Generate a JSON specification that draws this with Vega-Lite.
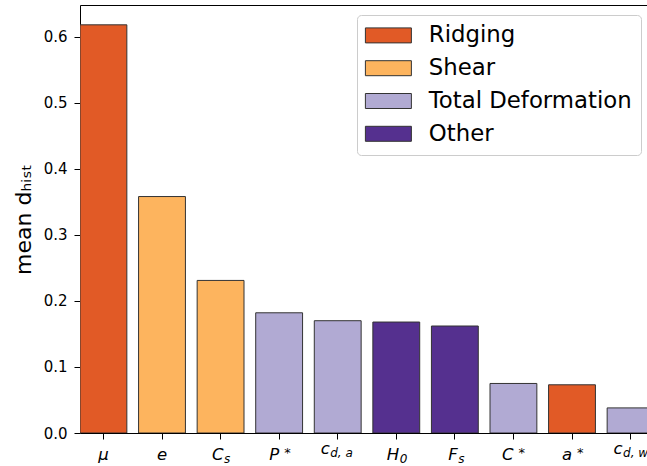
{
  "$schema": "https://vega.github.io/schema/vega-lite/v6.json",
  "width": 567,
  "height": 428,
  "autosize": {"type": "none"},
  "padding": {"left": 80, "top": 5, "right": 0, "bottom": 33},
  "background": "white",
  "config": {"view": {"stroke": null}, "font": "DejaVu Sans"},
  "data": {
    "values": [
      {"param": "μ", "base": "μ", "sub": "", "sup": "", "value": 0.618, "group": "Ridging"},
      {"param": "e", "base": "e", "sub": "", "sup": "", "value": 0.358, "group": "Shear"},
      {"param": "C_s", "base": "C", "sub": "s", "sup": "", "value": 0.231, "group": "Shear"},
      {"param": "P*", "base": "P", "sub": "", "sup": "*", "value": 0.182, "group": "Total Deformation"},
      {"param": "c_d,a", "base": "c", "sub": "d, a", "sup": "", "value": 0.170, "group": "Total Deformation"},
      {"param": "H_0", "base": "H", "sub": "0", "sup": "", "value": 0.168, "group": "Other"},
      {"param": "F_s", "base": "F", "sub": "s", "sup": "", "value": 0.162, "group": "Other"},
      {"param": "C*", "base": "C", "sub": "", "sup": "*", "value": 0.075, "group": "Total Deformation"},
      {"param": "a*", "base": "a", "sub": "", "sup": "*", "value": 0.073, "group": "Ridging"},
      {"param": "c_d,w", "base": "c", "sub": "d, w", "sup": "", "value": 0.038, "group": "Total Deformation"}
    ]
  },
  "layer": [
    {
      "mark": {"type": "bar", "clip": true, "stroke": "#333333", "strokeWidth": 1},
      "encoding": {
        "x": {
          "field": "param", "type": "nominal", "sort": null,
          "scale": {
            "domain": ["μ", "e", "C_s", "P*", "c_d,a", "H_0", "F_s", "C*", "a*", "c_d,w"],
            "range": [0, 574], "paddingInner": 0.2, "paddingOuter": 0
          },
          "axis": {"orient": "bottom", "labels": false, "title": null, "tickSize": 6, "tickColor": "black", "tickWidth": 1, "domainColor": "black", "domainWidth": 1}
        },
        "y": {
          "field": "value", "type": "quantitative",
          "scale": {"domain": [0, 0.648], "nice": false},
          "axis": {
            "title": "mean dₕᵢₛₜ",
            "titleFont": "DejaVu Sans", "titleFontSize": 22, "titleFontWeight": "normal", "titleColor": "black",
            "titlePadding": 8,
            "values": [0, 0.1, 0.2, 0.3, 0.4, 0.5, 0.6], "format": ".1f",
            "labelFont": "DejaVu Sans", "labelFontSize": 15, "labelColor": "black", "labelPadding": 7,
            "tickSize": 6, "tickColor": "black", "domainColor": "black", "grid": false
          }
        },
        "color": {
          "field": "group", "type": "nominal",
          "scale": {
            "domain": ["Ridging", "Shear", "Total Deformation", "Other"],
            "range": ["#e15a26", "#fdb45e", "#b1aad3", "#55308f"]
          },
          "legend": {
            "orient": "none", "legendX": 277, "legendY": 10,
            "title": null,
            "labelFont": "DejaVu Sans", "labelFontSize": 22.8, "labelColor": "black", "labelLimit": 400,
            "symbolType": "M-1.6,-1H4.53V1H-1.6Z", "symbolSize": 225,
            "symbolStrokeColor": "#333333", "symbolStrokeWidth": 1, "symbolOpacity": 1,
            "labelOffset": 40, "rowPadding": 8.8, "padding": 9,
            "strokeColor": "#cccccc", "fillColor": "white", "cornerRadius": 4
          }
        }
      }
    },
    {
      "mark": {"type": "bar", "opacity": 0},
      "encoding": {
        "x": {"field": "param", "type": "nominal", "sort": null,
              "axis": {"orient": "top", "labels": false, "ticks": false, "title": null, "domainColor": "black", "domainWidth": 1}},
        "y": {"field": "value", "type": "quantitative"}
      }
    },
    {
      "transform": [{"filter": "datum.sub === '' && datum.sup === ''"}],
      "mark": {"type": "text", "align": "center", "baseline": "alphabetic", "dy": 26.5, "fontSize": 16.5, "fontStyle": "italic", "font": "DejaVu Sans", "color": "black"},
      "encoding": {
        "x": {"field": "param", "type": "nominal", "sort": null, "axis": null},
        "y": {"datum": 0, "type": "quantitative"},
        "text": {"field": "base"}
      }
    },
    {
      "transform": [{"filter": "datum.sup !== ''"}],
      "mark": {"type": "text", "align": "right", "baseline": "alphabetic", "dx": 0, "dy": 26.5, "fontSize": 16.5, "fontStyle": "italic", "font": "DejaVu Sans", "color": "black"},
      "encoding": {
        "x": {"field": "param", "type": "nominal", "sort": null, "axis": null},
        "y": {"datum": 0, "type": "quantitative"},
        "text": {"field": "base"}
      }
    },
    {
      "transform": [{"filter": "datum.sup !== ''"}],
      "mark": {"type": "text", "align": "left", "baseline": "alphabetic", "dx": 5, "dy": 24, "fontSize": 13, "font": "DejaVu Sans", "color": "black"},
      "encoding": {
        "x": {"field": "param", "type": "nominal", "sort": null, "axis": null},
        "y": {"datum": 0, "type": "quantitative"},
        "text": {"field": "sup"}
      }
    },
    {
      "transform": [{"filter": "length(datum.sub) === 1"}],
      "mark": {"type": "text", "align": "right", "baseline": "alphabetic", "dx": 3, "dy": 26.5, "fontSize": 16.5, "fontStyle": "italic", "font": "DejaVu Sans", "color": "black"},
      "encoding": {
        "x": {"field": "param", "type": "nominal", "sort": null, "axis": null},
        "y": {"datum": 0, "type": "quantitative"},
        "text": {"field": "base"}
      }
    },
    {
      "transform": [{"filter": "length(datum.sub) === 1"}],
      "mark": {"type": "text", "align": "left", "baseline": "alphabetic", "dx": 3.5, "dy": 29.5, "fontSize": 12, "fontStyle": "italic", "font": "DejaVu Sans", "color": "black"},
      "encoding": {
        "x": {"field": "param", "type": "nominal", "sort": null, "axis": null},
        "y": {"datum": 0, "type": "quantitative"},
        "text": {"field": "sub"}
      }
    },
    {
      "transform": [{"filter": "length(datum.sub) > 1"}],
      "mark": {"type": "text", "align": "right", "baseline": "alphabetic", "dx": -8, "dy": 20.5, "fontSize": 16.5, "fontStyle": "italic", "font": "DejaVu Sans", "color": "black"},
      "encoding": {
        "x": {"field": "param", "type": "nominal", "sort": null, "axis": null},
        "y": {"datum": 0, "type": "quantitative"},
        "text": {"field": "base"}
      }
    },
    {
      "transform": [{"filter": "length(datum.sub) > 1"}],
      "mark": {"type": "text", "align": "left", "baseline": "alphabetic", "dx": -7.5, "dy": 24, "fontSize": 12, "fontStyle": "italic", "font": "DejaVu Sans", "color": "black"},
      "encoding": {
        "x": {"field": "param", "type": "nominal", "sort": null, "axis": null},
        "y": {"datum": 0, "type": "quantitative"},
        "text": {"field": "sub"}
      }
    }
  ],
  "resolve": {"axis": {"x": "independent"}}
}
